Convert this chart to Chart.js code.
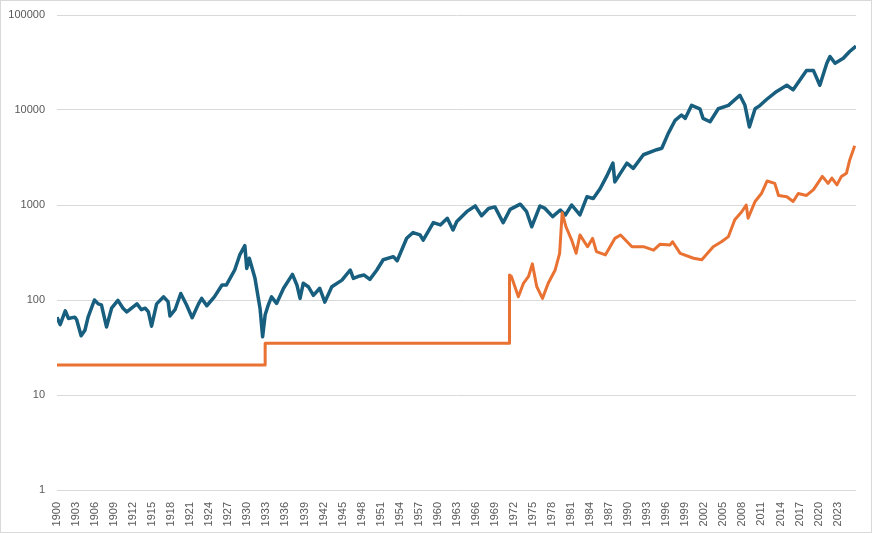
<!DOCTYPE html>
<html>
<head>
<meta charset="utf-8">
<script src="https://cdn.jsdelivr.net/npm/chart.js@4/dist/chart.umd.min.js"></script>
<style>
  html, body { margin: 0; padding: 0; background: #fff; }
  #wrap { position: relative; width: 872px; height: 533px; }
  #wrap::after { content: ''; position: absolute; inset: 0; border: 1px solid #d9d9d9; pointer-events: none; }
</style>
</head>
<body>
<div id="wrap"><canvas id="chart" width="872" height="533"></canvas></div>
<script>
// Dow Jones (blue) and gold (orange), log scale
const dowYears = [
  1900.0, 1900.5, 1901.3, 1901.8, 1902.8, 1903.1, 1903.8, 1904.4, 1904.9, 1905.9,
  1906.5, 1907.0, 1907.8, 1908.6, 1909.6, 1910.4, 1911.0, 1912.6, 1913.3, 1913.9,
  1914.4, 1914.9, 1915.7, 1916.8, 1917.5, 1917.8, 1918.6, 1919.5, 1920.4, 1921.3,
  1922.3, 1922.8, 1923.6, 1924.8, 1926.0, 1926.7, 1928.0, 1928.8, 1929.6, 1929.9,
  1930.3, 1931.2, 1932.0, 1932.4, 1932.8, 1933.3, 1933.8, 1934.6, 1935.7, 1937.1,
  1937.8, 1938.3, 1938.8, 1939.6, 1940.4, 1941.4, 1942.2, 1943.3, 1944.9, 1946.2,
  1946.7, 1947.7, 1948.4, 1949.3, 1950.4, 1951.4, 1953.0, 1953.6, 1955.1, 1956.1,
  1957.2, 1957.7, 1959.3, 1960.4, 1961.5, 1962.4, 1963.0, 1964.6, 1965.9, 1966.9,
  1968.0, 1969.0, 1970.3, 1971.4, 1973.0, 1974.0, 1974.8, 1976.1, 1976.9, 1978.1,
  1979.3, 1980.1, 1981.1, 1982.4, 1983.5, 1984.5, 1985.6, 1986.6, 1987.6, 1987.9,
  1989.8, 1990.8, 1992.4, 1994.5, 1995.3, 1996.3, 1997.4, 1998.4, 1999.0, 2000.0,
  2001.3, 2001.8, 2002.9, 2004.2, 2005.8, 2007.6, 2008.4, 2009.1, 2010.0, 2010.8,
  2011.8, 2013.4, 2015.0, 2016.0, 2018.1, 2019.2, 2020.2, 2021.3, 2021.8, 2022.6,
  2023.9, 2024.9, 2025.9
];
const dowValues = [
  66, 55, 77, 64, 66, 62, 42, 48, 66, 100,
  91, 89, 52, 82, 99, 82, 75, 91, 79, 82,
  75, 53, 91, 108, 96, 68, 79, 117, 89, 65,
  91, 104, 87, 108, 144, 144, 207, 298, 373, 215,
  275, 169, 81, 41, 70, 89, 108, 92, 133, 186,
  144, 104, 150, 138, 112, 133, 95, 138, 162, 207,
  169, 179, 183, 165, 207, 265, 286, 259, 447, 513,
  484, 426, 653, 617, 725, 546, 669, 856, 977, 772,
  920, 955, 650, 900, 1020, 850, 590, 977, 920, 754,
  885, 786, 1000, 786, 1220, 1170, 1490, 2000, 2760, 1750,
  2760, 2430, 3380, 3820, 3960, 5640, 7790, 8860, 8170, 11200,
  10300, 8170, 7530, 10300, 11200, 14300, 11200, 6630, 10300, 11200,
  12900, 15700, 18200, 16300, 26000, 26000, 18200, 31000, 36600, 31000,
  35000, 41300, 47000
];

const goldYears = [
  1900.0, 1932.8, 1932.8, 1971.3, 1971.3, 1971.6, 1972.7, 1973.5, 1974.3, 1974.9,
  1975.6, 1976.5, 1977.4, 1978.5, 1979.2, 1979.6, 1980.2, 1981.1, 1981.8, 1982.4,
  1983.6, 1984.4, 1985.0, 1986.4, 1987.9, 1988.8, 1990.6, 1992.4, 1994.0, 1995.0,
  1996.6, 1997.0, 1998.2, 2000.3, 2001.6, 2003.4, 2004.7, 2005.8, 2006.8, 2007.9,
  2008.6, 2008.9, 2010.0, 2011.0, 2011.9, 2013.1, 2013.7, 2015.0, 2016.0, 2016.8,
  2018.1, 2019.2, 2020.6, 2021.5, 2022.1, 2022.9, 2023.6, 2024.4, 2024.9, 2025.7
];
const goldValues = [
  20.67, 20.67, 35, 35, 183, 177, 108, 150, 177, 240,
  138, 104, 150, 207, 310, 830, 590, 427, 310, 484,
  364, 445, 323, 298, 445, 484, 364, 364, 335, 386,
  380, 410, 310, 275, 265, 364, 410, 465, 700, 850,
  1000, 725, 1090, 1320, 1790, 1690, 1260, 1220, 1090, 1320,
  1260, 1450, 2000, 1690, 1920, 1630, 2000, 2160, 2960, 4210
];

const xTickYears = [
  1900, 1903, 1906, 1909, 1912, 1915, 1918, 1921, 1924, 1927, 1930, 1933, 1936,
  1939, 1942, 1945, 1948, 1951, 1954, 1957, 1960, 1963, 1966, 1969, 1972, 1975,
  1978, 1981, 1984, 1987, 1990, 1993, 1996, 1999, 2002, 2005, 2008, 2011, 2014,
  2017, 2020, 2023
];
const yTickValues = [1, 10, 100, 1000, 10000, 100000];
const xFirstYear = 1900;
const xLastYear = 2025.9;

const toPoints = (xs, ys) => xs.map((x, i) => ({ x, y: ys[i] }));

const tickFont = { family: 'Liberation Sans, Arial, sans-serif', size: 11 };

new Chart(document.getElementById('chart'), {
  type: 'line',
  data: {
    datasets: [
      {
        label: 'Dow',
        data: toPoints(dowYears, dowValues),
        borderColor: '#175e7f',
        borderWidth: 3.5,
        borderJoinStyle: 'round',
        pointRadius: 0,
        tension: 0,
        order: 1
      },
      {
        label: 'Gold',
        data: toPoints(goldYears, goldValues),
        borderColor: '#e97132',
        borderWidth: 3,
        borderJoinStyle: 'round',
        pointRadius: 0,
        tension: 0,
        order: 0
      }
    ]
  },
  options: {
    responsive: false,
    animation: false,
    layout: { padding: { top: 15, right: 16, left: 0, bottom: 0 } },
    plugins: { legend: { display: false }, tooltip: { enabled: false } },
    scales: {
      x: {
        type: 'linear',
        min: xFirstYear,
        max: xLastYear,
        afterBuildTicks: s => { s.ticks = xTickYears.map(v => ({ value: v })); },
        grid: { display: false },
        border: { display: false },
        ticks: {
          autoSkip: false,
          minRotation: 90,
          maxRotation: 90,
          padding: 4,
          color: '#595959',
          font: tickFont,
          callback: v => String(v)
        },
        afterFit: s => { s.height = 43; }
      },
      y: {
        type: 'logarithmic',
        min: 1,
        max: 100000,
        afterBuildTicks: s => { s.ticks = yTickValues.map(v => ({ value: v })); },
        grid: { color: '#d9d9d9', lineWidth: 1, drawTicks: false },
        border: { display: false },
        ticks: {
          padding: 12,
          color: '#595959',
          font: tickFont,
          callback: v => String(v)
        },
        afterFit: s => { s.width = 57; s.paddingTop = 7; s.paddingBottom = 7; }
      }
    }
  }
});
</script>
</body>
</html>
